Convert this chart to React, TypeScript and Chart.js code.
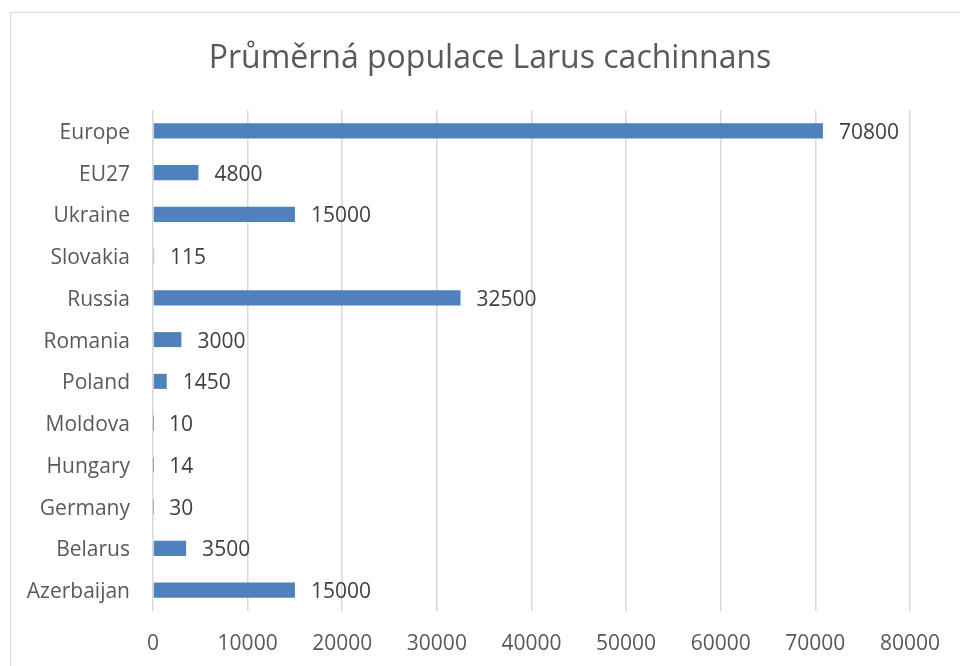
import React, { useEffect, useRef } from "react";
import { Chart, registerables } from "chart.js";

Chart.register(...registerables);

const TITLE = "Průměrná populace Larus cachinnans";
const categories = ["Europe", "EU27", "Ukraine", "Slovakia", "Russia", "Romania", "Poland", "Moldova", "Hungary", "Germany", "Belarus", "Azerbaijan"];
const values = [70800, 4800, 15000, 115, 32500, 3000, 1450, 10, 14, 30, 3500, 15000];
const xTicks = [0, 10000, 20000, 30000, 40000, 50000, 60000, 70000, 80000];

const FONT = "'Open Sans', sans-serif";

const decorPlugin = {
  id: "decor",
  beforeDraw(chart: any) {
    const ctx = chart.ctx;
    ctx.save();
    ctx.fillStyle = "#ffffff";
    ctx.fillRect(0, 0, chart.width, chart.height);
    ctx.strokeStyle = "#d9d9d9";
    ctx.lineWidth = 1;
    ctx.strokeRect(10.5, 12.5, 1200, 1200);
    ctx.fillStyle = "#595959";
    ctx.font = `32px ${FONT}`;
    ctx.textAlign = "center";
    ctx.textBaseline = "alphabetic";
    ctx.fillText(TITLE, 490, 68);
    ctx.restore();
  },
  afterDatasetsDraw(chart: any) {
    const ctx = chart.ctx;
    const meta = chart.getDatasetMeta(0);
    const data = chart.data.datasets[0].data;
    ctx.save();
    ctx.fillStyle = "#404040";
    ctx.font = `21px ${FONT}`;
    ctx.textAlign = "left";
    ctx.textBaseline = "middle";
    meta.data.forEach((bar: any, i: number) => {
      ctx.fillText(String(data[i]), bar.x + 16, bar.y + 2);
    });
    ctx.restore();
  },
};

export default function App() {
  const ref = useRef<HTMLCanvasElement>(null);
  useEffect(() => {
    document.body.style.margin = "0";
    document.body.style.overflow = "hidden";
    const chart = new Chart(ref.current!, {
      type: "bar",
      data: {
        labels: categories,
        datasets: [
          {
            data: values,
            backgroundColor: "#4f81bd",
            borderWidth: 0,
            barPercentage: 0.36,
            categoryPercentage: 1,
          },
        ],
      },
      options: {
        indexAxis: "y",
        responsive: false,
        animation: false,
        layout: { padding: { left: 0, right: 50, top: 110, bottom: 0 } },
        plugins: {
          legend: { display: false },
          title: { display: false },
          tooltip: { enabled: false },
        },
        scales: {
          x: {
            min: 0,
            max: 80000,
            afterBuildTicks: (scale: any) => {
              scale.ticks = xTicks.map((v) => ({ value: v }));
            },
            afterFit: (scale: any) => {
              scale.height = 55;
            },
            grid: { color: "#d9d9d9", lineWidth: 1.5, drawTicks: false },
            border: { display: false },
            ticks: {
              color: "#595959",
              font: { family: FONT, size: 21 },
              padding: 20,
              maxRotation: 0,
              autoSkip: false,
              callback: (v: any) => String(v),
            },
          },
          y: {
            afterFit: (scale: any) => {
              scale.width = 153;
            },
            grid: { display: false, drawTicks: false },
            border: { display: false },
            ticks: {
              color: "#595959",
              font: { family: FONT, size: 21 },
              padding: 23,
              labelOffset: 2,
              autoSkip: false,
            },
          },
        },
      },
      plugins: [decorPlugin],
    });
    return () => chart.destroy();
  }, []);
  return (
    <div style={{ position: "fixed", left: 0, top: 0, width: 960, height: 666 }}>
      <canvas ref={ref} width={960} height={666} style={{ display: "block" }} />
    </div>
  );
}
